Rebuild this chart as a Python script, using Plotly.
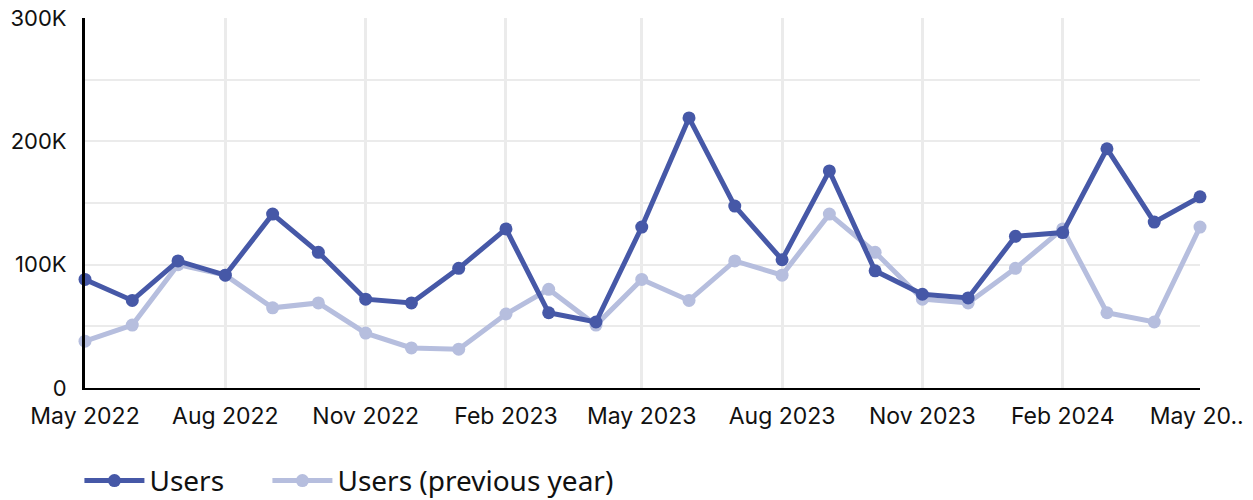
import plotly.graph_objects as go

months = [
    '2022-05-01', '2022-06-01', '2022-07-01', '2022-08-01', '2022-09-01', '2022-10-01',
    '2022-11-01', '2022-12-01', '2023-01-01', '2023-02-01', '2023-03-01', '2023-04-01',
    '2023-05-01', '2023-06-01', '2023-07-01', '2023-08-01', '2023-09-01', '2023-10-01',
    '2023-11-01', '2023-12-01', '2024-01-01', '2024-02-01', '2024-03-01', '2024-04-01',
    '2024-05-01',
]
users = [
    88000, 71000, 103000, 91500, 141000, 110000, 72000, 69000, 97000, 129000, 61000, 53500,
    130500, 219000, 147500, 104000, 176000, 95000, 76000, 73000, 123000, 126000, 194000,
    134500, 155000,
]
users_prev = [
    38000, 51000, 100000, 91500, 65000, 69000, 44500, 32500, 31500, 60000, 80000, 51000,
    88000, 71000, 103000, 91500, 141000, 110000, 72000, 69000, 97000, 129000, 61000,
    53500, 130500,
]
x_tickvals = ['2022-05-01', '2022-08-01', '2022-11-01', '2023-02-01', '2023-05-01',
              '2023-08-01', '2023-11-01', '2024-02-01', '2024-05-01']
x_ticktext = ['May 2022', 'Aug 2022', 'Nov 2022', 'Feb 2023', 'May 2023',
              'Aug 2023', 'Nov 2023', 'Feb 2024', 'May 20...']
y_tickvals = [0, 100000, 200000, 300000]
y_ticktext = ['0', '100K', '200K', '300K']

DARK = '#4658A7'
LIGHT = '#B6BEDE'

fig = go.Figure()
# previous year first so the current series sits on top
fig.add_trace(go.Scatter(x=months, y=users_prev, name='Users (previous year)', mode='lines+markers',
                         line=dict(color=LIGHT, width=5), marker=dict(size=13, color=LIGHT),
                         cliponaxis=False, legend='legend2'))
fig.add_trace(go.Scatter(x=months, y=users, name='Users', mode='lines+markers',
                         line=dict(color=DARK, width=5), marker=dict(size=13, color=DARK),
                         cliponaxis=False, legend='legend'))

legend_style = dict(orientation='h', xanchor='left', y=-0.251, yanchor='middle',
                    font=dict(family='Noto Sans, sans-serif', size=28, color='#111111'),
                    itemwidth=60)

# the page body adds an 8px offset, so the figure is a bit smaller than the window
fig.update_layout(
    width=1245, height=492,
    margin=dict(l=77, r=53, t=10, b=112, autoexpand=False),
    plot_bgcolor='white', paper_bgcolor='white',
    font=dict(family='Inter, Open Sans, sans-serif', size=23, color='#111111'),
    showlegend=True,
    legend=dict(x=-0.005, **legend_style),
    legend2=dict(x=0.1636, **legend_style),
)
fig.update_xaxes(
    type='date', range=['2022-05-01', '2024-05-01'], automargin=False,
    tickvals=x_tickvals, ticktext=x_ticktext, tickangle=0,
    showgrid=True, gridcolor='#ebebeb', gridwidth=3,
    showline=True, linecolor='black', linewidth=2,
    ticks='', ticklabelstandoff=6, zeroline=False, ticklabeloverflow='allow',
)
fig.update_yaxes(
    range=[0, 300000], tickvals=y_tickvals, ticktext=y_ticktext, automargin=False,
    tickfont=dict(size=22),
    showgrid=True, gridcolor='#ebebeb', gridwidth=2,
    minor=dict(tickvals=[50000, 150000, 250000], showgrid=True, gridcolor='#ebebeb', gridwidth=2),
    showline=True, linecolor='black', linewidth=3,
    ticks='', ticklabelstandoff=11, zeroline=False, ticklabeloverflow='allow',
)

fig.write_html('out.html')
